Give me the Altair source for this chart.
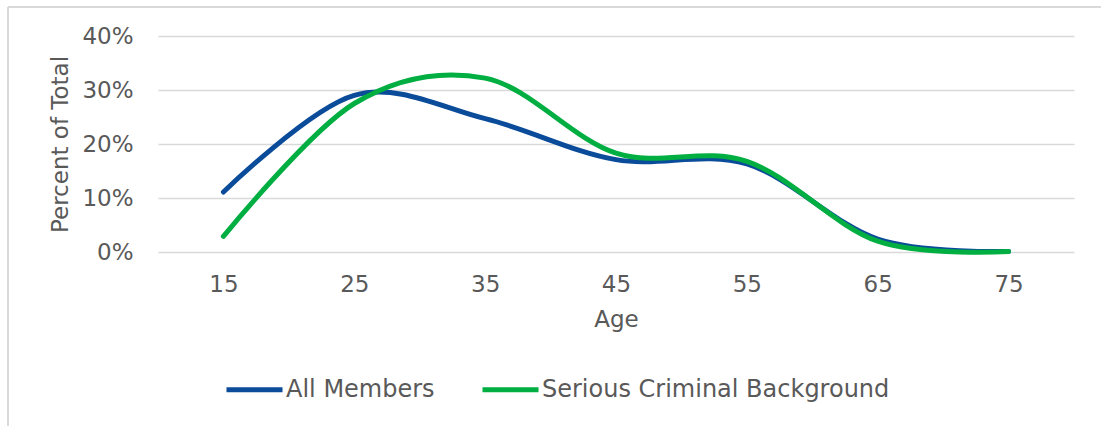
import altair as alt
import pandas as pd

# Age groups (category axis) and the share of each group per series
ages = [15, 25, 35, 45, 55, 65, 75]
all_members = [0.111, 0.290, 0.247, 0.171, 0.163, 0.024, 0.001]
serious_criminal = [0.029, 0.275, 0.322, 0.183, 0.168, 0.020, 0.001]
series_names = ["All Members", "Serious Criminal Background"]
series_colors = ["#0A4B9A", "#00AE42"]

rows = []
for name, values in zip(series_names, [all_members, serious_criminal]):
    for a, v in zip(ages, values):
        rows.append({"Age": a, "share": v, "series": name})
df = pd.DataFrame(rows)

FONT = "DejaVu Sans"
TEXT = "#595959"
GRID = "#D9D9D9"

lines = alt.Chart(df).mark_line(
    interpolate="cardinal", strokeWidth=5, strokeCap="round"
).encode(
    x=alt.X(
        "Age:O",
        scale=alt.Scale(type="point", padding=0.5),
        axis=alt.Axis(
            title="Age", labelAngle=0, domain=False, ticks=False, grid=False,
            labelPadding=21, titlePadding=12,
        ),
    ),
    y=alt.Y(
        "share:Q",
        scale=alt.Scale(domain=[0, 0.4]),
        axis=alt.Axis(
            title="Percent of Total", format=".0%", values=[0, 0.1, 0.2, 0.3, 0.4],
            domain=False, ticks=False, labelPadding=25, titlePadding=9,
            gridColor=GRID, gridWidth=1.5,
        ),
    ),
    color=alt.Color(
        "series:N",
        scale=alt.Scale(domain=series_names, range=series_colors),
        legend=alt.Legend(
            title=None, orient="none", direction="horizontal",
            legendX=66, legendY=323,
            symbolType="stroke", symbolStrokeWidth=5, symbolSize=3136,
            labelOffset=1, columnPadding=37, labelLimit=500,
        ),
    ),
)

# Light frame along the top and left edges of the chart
frame_top = alt.Chart(df).mark_rule(color=GRID, strokeWidth=1.5).encode(
    x=alt.value(-150), x2=alt.value(950), y=alt.value(-29)
)
frame_left = alt.Chart(df).mark_rule(color=GRID, strokeWidth=1.5).encode(
    x=alt.value(-150), y=alt.value(-29), y2=alt.value(400)
)

chart = alt.layer(frame_top, frame_left, lines).properties(
    width=916,
    height=216,
    padding={"left": 158, "top": 36, "right": 27, "bottom": 174},
    autosize=alt.AutoSizeParams(type="none"),
).configure_view(
    stroke=None
).configure_axis(
    labelFont=FONT, titleFont=FONT, labelColor=TEXT, titleColor=TEXT,
    labelFontSize=23, titleFontSize=23, titleFontWeight="normal",
).configure_legend(
    labelFont=FONT, labelColor=TEXT, labelFontSize=24,
)

chart.save("out.html", embed_options={"renderer": "svg", "actions": False})
